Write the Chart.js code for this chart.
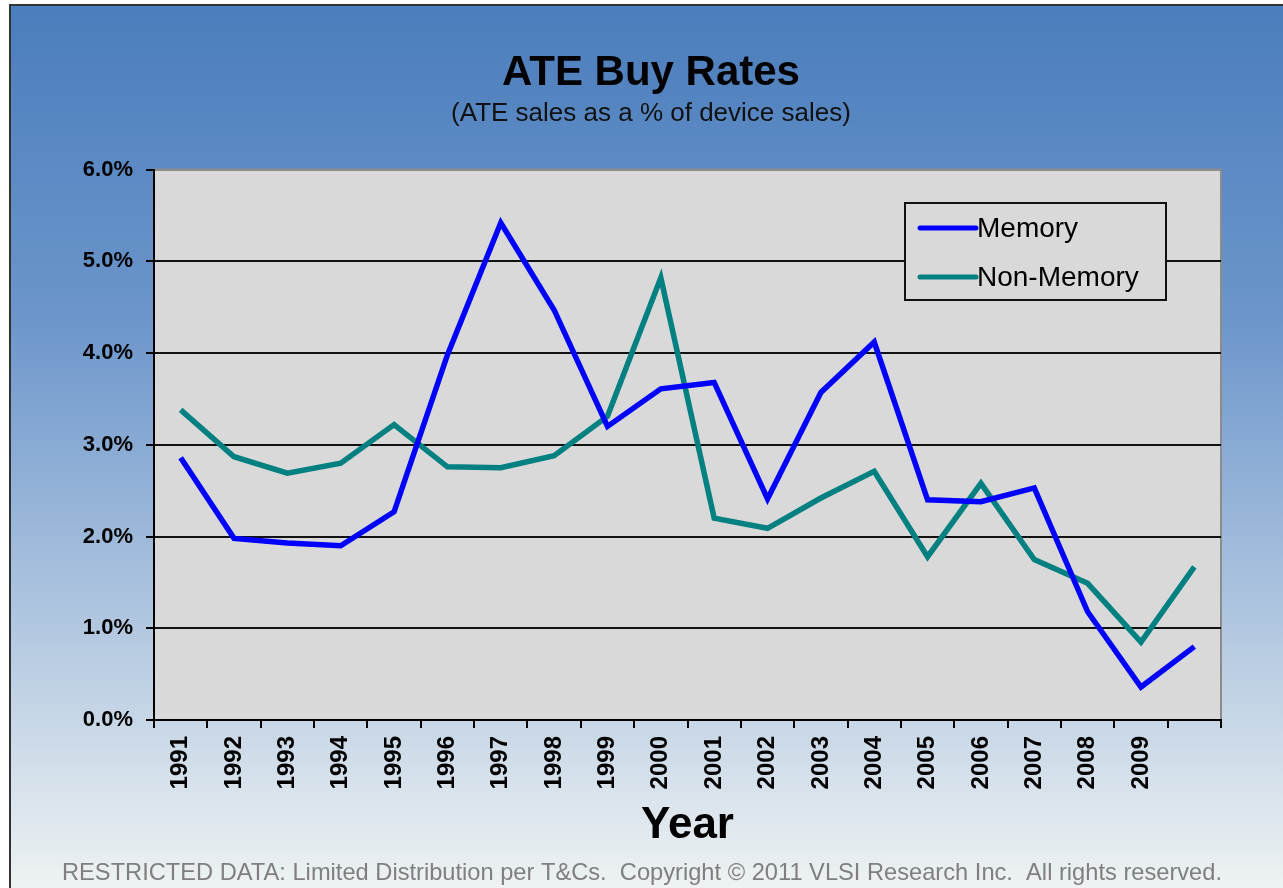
<!DOCTYPE html>
<html>
<head>
<meta charset="utf-8">
<script src="https://cdn.jsdelivr.net/npm/chart.js@4.4.0/dist/chart.umd.min.js"></script>
<style>
  html, body { margin: 0; padding: 0; background: #fff; }
  #wrap { width: 1283px; height: 888px; }
</style>
</head>
<body>
<div id="wrap"><canvas id="mycanvas" width="1283" height="888"></canvas></div>
<script>
// values (% of device sales)
const years = ['1991', '1992', '1993', '1994', '1995', '1996', '1997', '1998', '1999', '2000',
    '2001', '2002', '2003', '2004', '2005', '2006', '2007', '2008', '2009', '2010'];
const tickLabels = ['1991', '1992', '1993', '1994', '1995', '1996', '1997', '1998', '1999', '2000',
    '2001', '2002', '2003', '2004', '2005', '2006', '2007', '2008', '2009', ''];
const memory = [2.86, 1.98, 1.93, 1.90, 2.27, 3.98, 5.42, 4.47, 3.20, 3.61,
    3.68, 2.41, 3.57, 4.12, 2.40, 2.38, 2.53, 1.18, 0.36, 0.80];
const nonMemory = [3.38, 2.87, 2.69, 2.80, 3.22, 2.76, 2.75, 2.88, 3.31, 4.82,
    2.20, 2.09, 2.42, 2.71, 1.78, 2.58, 1.75, 1.49, 0.85, 1.67];
const yTicks = [0, 1, 2, 3, 4, 5, 6];

const footer = 'RESTRICTED DATA: Limited Distribution per T&Cs.  Copyright \u00A9 2011 VLSI Research Inc.  All rights reserved.';

const backdrop = {
    id: 'backdrop',
    beforeDraw(chart) {
        const ctx = chart.ctx;
        const a = chart.chartArea;
        ctx.save();
        ctx.fillStyle = '#fff';
        ctx.fillRect(0, 0, chart.width, chart.height);
        const g = ctx.createLinearGradient(0, 5, 0, chart.height);
        g.addColorStop(0, '#4b7ebc');
        g.addColorStop(0.35, '#6b95cb');
        g.addColorStop(0.7, '#b1c7e0');
        g.addColorStop(1, '#eef2f2');
        ctx.fillStyle = g;
        ctx.fillRect(10, 5, chart.width - 10, chart.height - 5);
        ctx.strokeStyle = '#333';
        ctx.lineWidth = 2;
        ctx.beginPath();
        ctx.moveTo(10, chart.height);
        ctx.lineTo(10, 5);
        ctx.lineTo(chart.width, 5);
        ctx.stroke();
        // plot area
        ctx.fillStyle = '#d9d9d9';
        ctx.fillRect(a.left, a.top, a.right - a.left, a.bottom - a.top);
        ctx.strokeStyle = '#8c8c8c';
        ctx.lineWidth = 2;
        ctx.beginPath();
        ctx.moveTo(a.left, a.top);
        ctx.lineTo(a.right, a.top);
        ctx.lineTo(a.right, a.bottom);
        ctx.stroke();
        ctx.restore();
    },
    afterDatasetsDraw(chart) {
        // boxed legend inside the plot
        const ctx = chart.ctx;
        const x = 905, y = 203, w = 261, h = 97;
        ctx.save();
        ctx.fillStyle = '#d9d9d9';
        ctx.fillRect(x, y, w, h);
        ctx.strokeStyle = '#111';
        ctx.lineWidth = 2;
        ctx.strokeRect(x, y, w, h);
        ctx.font = '28px "Liberation Sans", Arial, sans-serif';
        ctx.textBaseline = 'middle';
        chart.data.datasets.forEach(function (ds, i) {
            const ly = y + 25 + i * 49;
            ctx.strokeStyle = ds.borderColor;
            ctx.lineWidth = 5;
            ctx.lineCap = 'round';
            ctx.beginPath();
            ctx.moveTo(920, ly);
            ctx.lineTo(976, ly);
            ctx.stroke();
            ctx.fillStyle = '#000';
            ctx.fillText(ds.label, 977, ly + 1);
        });
        ctx.restore();
    },
    afterDraw(chart) {
        const ctx = chart.ctx;
        ctx.save();
        ctx.font = '24px "Liberation Sans", Arial, sans-serif';
        ctx.fillStyle = '#7f7f7f';
        ctx.textBaseline = 'alphabetic';
        const tw = ctx.measureText(footer).width;
        const sx = 1160 / tw;
        ctx.translate(62, 880);
        ctx.scale(sx, 1);
        ctx.fillText(footer, 0, 0);
        ctx.restore();
    }
};

const ctx = document.getElementById('mycanvas').getContext('2d');
const myChart = new Chart(ctx, {
    type: 'line',
    data: {
        labels: years,
        datasets: [{
            label: 'Memory',
            data: memory,
            borderColor: '#0000ff',
            backgroundColor: '#0000ff',
            borderWidth: 5.5,
            pointRadius: 0,
            tension: 0
        }, {
            label: 'Non-Memory',
            data: nonMemory,
            borderColor: '#008080',
            backgroundColor: '#008080',
            borderWidth: 5.5,
            pointRadius: 0,
            tension: 0
        }]
    },
    options: {
        responsive: false,
        animation: false,
        layout: { padding: { top: 10, left: 81, right: 62, bottom: 28 } },
        plugins: {
            legend: { display: false },
            tooltip: { enabled: false },
            title: {
                display: true,
                text: 'ATE Buy Rates',
                color: '#000',
                font: { family: '"Liberation Sans", Arial, sans-serif', size: 42, weight: 'bold', lineHeight: 1.2 },
                padding: { top: 38, bottom: 0 }
            },
            subtitle: {
                display: true,
                text: '(ATE sales as a % of device sales)',
                color: '#111',
                font: { family: '"Liberation Sans", Arial, sans-serif', size: 26, lineHeight: 1.2 },
                padding: { top: 0, bottom: 40 }
            }
        },
        scales: {
            x: {
                offset: true,
                afterFit: function (scale) { scale.height = 140; },
                grid: {
                    offset: true,
                    drawOnChartArea: false,
                    drawTicks: true,
                    tickLength: 8,
                    color: '#000',
                    lineWidth: 2
                },
                border: { color: '#000', width: 2 },
                ticks: {
                    autoSkip: false,
                    minRotation: 90,
                    maxRotation: 90,
                    padding: 8,
                    color: '#000',
                    font: { family: '"Liberation Sans", Arial, sans-serif', size: 24, weight: 'bold' },
                    callback: function (v, i) { return tickLabels[i]; }
                },
                title: {
                    display: true,
                    text: 'Year',
                    color: '#000',
                    font: { family: '"Liberation Sans", Arial, sans-serif', size: 44, weight: 'bold', lineHeight: 1.2 },
                    padding: { top: 0, bottom: 8 }
                }
            },
            y: {
                min: 0,
                max: 6,
                afterFit: function (scale) { scale.width = 73; },
                afterBuildTicks: function (scale) {
                    scale.ticks = yTicks.map(function (v) { return { value: v }; });
                },
                grid: {
                    color: function (c) { return c.tick && c.tick.value === 6 ? '#8c8c8c' : '#111'; },
                    tickColor: '#000',
                    lineWidth: 2,
                    tickLength: 8
                },
                border: { color: '#000', width: 2 },
                ticks: {
                    padding: 13,
                    color: '#000',
                    font: { family: '"Liberation Sans", Arial, sans-serif', size: 22, weight: 'bold' },
                    callback: function (v) { return v.toFixed(1) + '%'; }
                }
            }
        }
    },
    plugins: [backdrop]
});
</script>
</body>
</html>
